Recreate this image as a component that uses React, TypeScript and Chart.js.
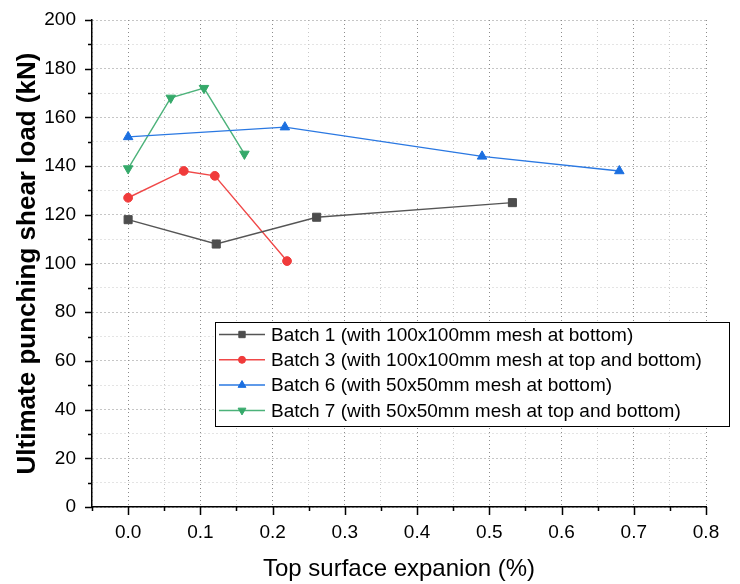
import React, { useEffect, useRef } from "react";
import { Chart, registerables } from "chart.js";
import { drawPoint } from "chart.js/helpers";

Chart.register(...registerables);

const seriesNames = [
  "Batch 1 (with 100x100mm mesh at bottom)",
  "Batch 3 (with 100x100mm mesh at top and bottom)",
  "Batch 6 (with 50x50mm mesh at bottom)",
  "Batch 7 (with 50x50mm mesh at top and bottom)",
];
const batch1X = [0, 0.122, 0.261, 0.532];
const batch1Y = [118, 108, 119, 125];
const batch3X = [0, 0.077, 0.12, 0.22];
const batch3Y = [127, 138, 136, 101];
const batch6X = [0, 0.217, 0.49, 0.68];
const batch6Y = [152, 156, 144, 138];
const batch7X = [0, 0.059, 0.105, 0.161];
const batch7Y = [139, 168, 172, 145];

const xTitle = "Top surface expanion (%)";
const yTitle = "Ultimate punching shear load (kN)";

const FONT = "Arial, 'Liberation Sans', sans-serif";

const pts = (xs: number[], ys: number[]) => xs.map((x, i) => ({ x, y: ys[i] }));

const isMajorX = (v: number) => Math.abs(Math.round(v * 10) - v * 10) < 1e-6 && v > -1e-6;
const isMajorY = (v: number) => Math.round(v) % 20 === 0;

const tickMarks = {
  id: "tickMarks",
  afterDraw(chart: any) {
    const ctx = chart.ctx;
    const xs = chart.scales.x;
    const ys = chart.scales.y;
    const { left, bottom } = chart.chartArea;
    ctx.save();
    ctx.strokeStyle = "#000";
    ctx.lineWidth = 1.5;
    ctx.beginPath();
    xs.ticks.forEach((t: any) => {
      const p = Math.round(xs.getPixelForValue(t.value)) + 0.5;
      const len = isMajorX(t.value) ? 8 : 4;
      ctx.moveTo(p, bottom);
      ctx.lineTo(p, bottom + len);
    });
    ys.ticks.forEach((t: any) => {
      const p = Math.round(ys.getPixelForValue(t.value)) + 0.5;
      const len = isMajorY(t.value) ? 7 : 4;
      ctx.moveTo(left, p);
      ctx.lineTo(left - len, p);
    });
    ctx.stroke();
    ctx.restore();
  },
};

const boxLegend = {
  id: "boxLegend",
  afterDraw(chart: any) {
    const ctx = chart.ctx;
    const bx = 215, by = 322, bw = 514, bh = 104;
    ctx.save();
    ctx.fillStyle = "#fff";
    ctx.fillRect(bx, by, bw, bh);
    ctx.strokeStyle = "#000";
    ctx.lineWidth = 1;
    ctx.strokeRect(bx + 0.5, by + 0.5, bw, bh);
    chart.data.datasets.forEach((ds: any, i: number) => {
      const y = by + 12.5 + i * 25.3;
      ctx.strokeStyle = ds.borderColor;
      ctx.lineWidth = 1.5;
      ctx.beginPath();
      ctx.moveTo(219, y);
      ctx.lineTo(265, y);
      ctx.stroke();
      ctx.fillStyle = ds.pointBackgroundColor;
      ctx.strokeStyle = ds.pointBackgroundColor;
      ctx.lineWidth = 1;
      drawPoint(ctx, {
        pointStyle: ds.pointStyle,
        radius: ds.pointStyle === "circle" ? 3.5 : 4.5,
        rotation: ds.pointRotation || 0,
        borderWidth: 1,
      }, 242, y);
      ctx.fillStyle = "#000";
      ctx.font = `19px ${FONT}`;
      ctx.textBaseline = "middle";
      ctx.textAlign = "left";
      ctx.fillText(ds.label, 271, y + 1);
    });
    ctx.restore();
  },
};

function mk(label: string, data: any[], color: string, lineColor: string, style: string, radius: number, rot = 0) {
  return {
    label,
    data,
    borderColor: lineColor,
    backgroundColor: color,
    pointBackgroundColor: color,
    pointBorderColor: color,
    pointStyle: style,
    pointRadius: radius,
    pointRotation: rot,
    pointBorderWidth: 1,
    borderWidth: 1.4,
    showLine: true,
    tension: 0,
  };
}

export default function App() {
  const ref = useRef<HTMLCanvasElement>(null);
  useEffect(() => {
    if (!ref.current) return;
    const chart = new Chart(ref.current, {
      type: "scatter",
      data: {
        datasets: [
          mk(seriesNames[0], pts(batch1X, batch1Y), "#4d4d4d", "#555555", "rect", 5.7),
          mk(seriesNames[1], pts(batch3X, batch3Y), "#f03b3b", "#f04848", "circle", 4.4),
          mk(seriesNames[2], pts(batch6X, batch6Y), "#1b6fe0", "#2a78e2", "triangle", 5.5),
          mk(seriesNames[3], pts(batch7X, batch7Y), "#35a96a", "#4cb27a", "triangle", 5.5, 180),
        ],
      },
      options: {
        animation: false,
        responsive: false,
        devicePixelRatio: 1,
        layout: { padding: { top: 20, right: 34, bottom: 0, left: 0 } },
        plugins: { legend: { display: false }, tooltip: { enabled: false } },
        scales: {
          x: {
            type: "linear",
            min: -0.05,
            max: 0.8,
            afterFit: (s: any) => {
              s.height = 77;
              s.paddingLeft = 0;
              s.paddingRight = 0;
            },
            ticks: {
              stepSize: 0.05,
              autoSkip: false,
              maxRotation: 0,
              padding: 14,
              color: "#000",
              font: { family: FONT, size: 19 },
              callback: (v: any) => (isMajorX(Number(v)) ? Number(v).toFixed(1) : ""),
            },
            grid: {
              drawTicks: false,
              lineWidth: 1,
              color: (c: any) => (c.tick && isMajorX(c.tick.value) ? "#8c8c8c" : "#c8c8c8"),
            },
            border: { display: true, color: "#000", width: 1.5, dash: [1, 3] },
            title: {
              display: true,
              text: xTitle,
              color: "#000",
              font: { family: FONT, size: 24 },
              padding: { top: 0, bottom: 0 },
            },
          },
          y: {
            type: "linear",
            min: 0,
            max: 200,
            afterFit: (s: any) => {
              s.width = 92;
              s.paddingTop = 0;
              s.paddingBottom = 0;
            },
            ticks: {
              stepSize: 10,
              autoSkip: false,
              padding: 16,
              color: "#000",
              font: { family: FONT, size: 19 },
              callback: (v: any) => (isMajorY(Number(v)) ? String(v) : ""),
            },
            grid: {
              drawTicks: false,
              lineWidth: 1,
              color: (c: any) => (c.tick && isMajorY(c.tick.value) ? "#8c8c8c" : "#c8c8c8"),
            },
            border: { display: true, color: "#000", width: 1.5, dash: [1, 3] },
            title: {
              display: true,
              text: yTitle,
              color: "#000",
              font: { family: FONT, size: 26, weight: "bold" },
              padding: { top: 12, bottom: 0 },
            },
          },
        },
      },
      plugins: [tickMarks, boxLegend],
    } as any);
    return () => chart.destroy();
  }, []);
  return (
    <div style={{ position: "absolute", left: 0, top: 0, width: 740, height: 584, background: "#fff" }}>
      <canvas ref={ref} width={740} height={584} />
    </div>
  );
}
